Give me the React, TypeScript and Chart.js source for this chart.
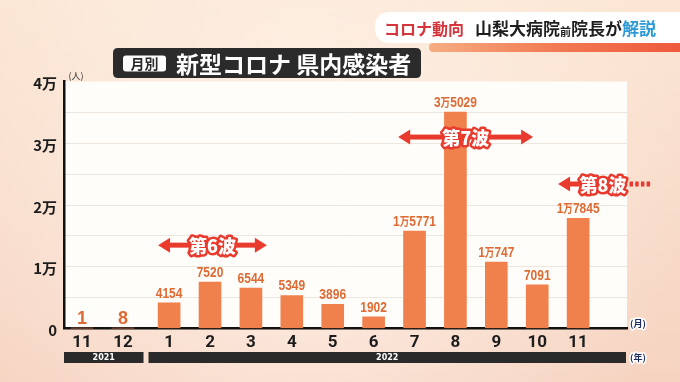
import React, { useEffect, useRef } from 'react';
import { Chart, registerables } from 'chart.js';

Chart.register(...registerables);

// ---------------- data ----------------
const MONTHS = ['11', '12', '1', '2', '3', '4', '5', '6', '7', '8', '9', '10', '11'];
const YEARS = [2021, 2021, 2022, 2022, 2022, 2022, 2022, 2022, 2022, 2022, 2022, 2022, 2022];
const CASES = [1, 8, 4154, 7520, 6544, 5349, 3896, 1902, 15771, 35029, 10747, 7091, 17845];
const Y_MAX = 40000;
const Y_STEP = 5000;
const Y_LABEL_STEP = 10000;
const TITLE_TAG = '月別';
const TITLE = '新型コロナ 県内感染者';
const HEADER_RED = 'コロナ動向';
const HEADER_PARTS = [
  { t: '山梨大病院', c: '#1e1e1e', s: 17 },
  { t: '前', c: '#1e1e1e', s: 11 },
  { t: '院長が', c: '#1e1e1e', s: 17 },
  { t: '解説', c: '#2b9ad6', s: 17 },
];
const WAVE_LABELS = ['第6波', '第7波', '第8波'];
// wave annotation placement (x in axis units, at = y value)
const WAVE_PLACES = [
  { from: 1.86, to: 4.52, at: 13500, ongoing: false },
  { from: 7.73, to: 11.03, at: 31000, ongoing: false },
  { from: 11.64, to: 13.89, at: 23400, ongoing: true },
];
const YEAR_GAP = 0.13;

const XPOS = MONTHS.map((_, i) => i + (YEARS[i] !== YEARS[0] ? YEAR_GAP : 0));

const CJK = '"Noto Sans CJK JP", "Noto Sans", sans-serif';
const NUMF = '"Liberation Sans", Arial, sans-serif';
const ORANGE_TEXT = '#de6a34';
const BAR = '#f0804c';
const RED = '#e83b2e';
const NARROW_SCALE = 0.8;

function roundRect(ctx: CanvasRenderingContext2D, x: number, y: number, w: number, h: number, r: number) {
  ctx.beginPath();
  ctx.moveTo(x + r, y);
  ctx.lineTo(x + w - r, y);
  ctx.quadraticCurveTo(x + w, y, x + w, y + r);
  ctx.lineTo(x + w, y + h - r);
  ctx.quadraticCurveTo(x + w, y + h, x + w - r, y + h);
  ctx.lineTo(x + r, y + h);
  ctx.quadraticCurveTo(x, y + h, x, y + h - r);
  ctx.lineTo(x, y + r);
  ctx.quadraticCurveTo(x, y, x + r, y);
  ctx.closePath();
}

function drawValue(ctx: CanvasRenderingContext2D, v: number, cx: number, baseY: number) {
  ctx.save();
  ctx.fillStyle = ORANGE_TEXT;
  ctx.textBaseline = 'alphabetic';
  ctx.textAlign = 'left';
  if (v < 100) {
    ctx.font = `bold 18px ${NUMF}`;
    const w = ctx.measureText(String(v)).width;
    ctx.fillText(String(v), cx - w / 2, baseY);
    ctx.restore();
    return;
  }
  // narrow rendering
  ctx.translate(cx, baseY);
  ctx.scale(NARROW_SCALE, 1);
  const numFont = `bold 15px ${NUMF}`;
  const manFont = `bold 12px ${CJK}`;
  if (v >= 10000) {
    const man = String(Math.floor(v / 10000));
    const rest = String(v % 10000);
    ctx.font = numFont;
    const w1 = ctx.measureText(man).width;
    const w3 = ctx.measureText(rest).width;
    ctx.font = manFont;
    const w2 = ctx.measureText('万').width;
    let x = -(w1 + w2 + w3) / 2;
    ctx.font = numFont;
    ctx.fillText(man, x, 0);
    x += w1;
    ctx.font = manFont;
    ctx.fillText('万', x, 0);
    x += w2;
    ctx.font = numFont;
    ctx.fillText(rest, x, 0);
  } else {
    ctx.font = numFont;
    const w = ctx.measureText(String(v)).width;
    ctx.fillText(String(v), -w / 2, 0);
  }
  ctx.restore();
}

function arrowHead(ctx: CanvasRenderingContext2D, tipX: number, y: number, dir: number) {
  ctx.beginPath();
  ctx.moveTo(tipX, y);
  ctx.lineTo(tipX - dir * 12, y - 7.5);
  ctx.lineTo(tipX - dir * 12, y + 7.5);
  ctx.closePath();
  ctx.fill();
}

const decor = {
  id: 'decor',
  beforeDraw(chart: any) {
    const { ctx, width, height, chartArea } = chart;
    ctx.save();
    const g = ctx.createLinearGradient(0, 0, 0, height);
    g.addColorStop(0, '#fbe6d4');
    g.addColorStop(1, '#f6d3c1');
    ctx.fillStyle = g;
    ctx.fillRect(0, 0, width, height);
    const r = ctx.createRadialGradient(width * 0.45, height * 0.5, 20, width * 0.45, height * 0.5, 380);
    r.addColorStop(0, 'rgba(255,246,238,0.75)');
    r.addColorStop(1, 'rgba(255,246,238,0)');
    ctx.fillStyle = r;
    ctx.fillRect(0, 0, width, height);
    // panel
    ctx.fillStyle = '#fffdfa';
    ctx.fillRect(chartArea.left, chartArea.top, chartArea.right - chartArea.left, chartArea.bottom - chartArea.top);
    ctx.restore();
  },
  afterDatasetsDraw(chart: any) {
    const { ctx } = chart;
    const meta = chart.getDatasetMeta(0);
    meta.data.forEach((bar: any, i: number) => {
      const v = CASES[i];
      const off = v < 100 ? 4 : 5;
      drawValue(ctx, v, bar.x, bar.y - off);
    });
    // waves
    const xs = chart.scales.x;
    const ys = chart.scales.y;
    WAVE_PLACES.forEach((w, i) => {
      const x1 = xs.getPixelForValue(w.from);
      const x2 = xs.getPixelForValue(w.to);
      const y = ys.getPixelForValue(w.at);
      ctx.save();
      ctx.fillStyle = RED;
      ctx.font = `900 18px ${CJK}`;
      ctx.textBaseline = 'middle';
      ctx.textAlign = 'center';
      const tw = ctx.measureText(WAVE_LABELS[i]).width;
      let tx: number;
      if (!w.ongoing) {
        ctx.fillRect(x1 + 8, y - 2.5, x2 - x1 - 16, 5);
        arrowHead(ctx, x1, y, -1);
        arrowHead(ctx, x2, y, 1);
        tx = (x1 + x2) / 2;
      } else {
        const dotsW = 4 * 3.5 + 3 * 2.2;
        tx = x2 - dotsW - 3 - tw / 2;
        ctx.fillRect(x1 + 8, y - 2.5, tx - x1 - 8, 5);
        arrowHead(ctx, x1, y, -1);
        let dx = tx + tw / 2 + 3;
        for (let k = 0; k < 4; k++) {
          ctx.fillRect(dx, y - 2.5, 3.5, 5);
          dx += 3.5 + 2.2;
        }
      }
      ctx.lineJoin = 'round';
      ctx.lineWidth = 5;
      ctx.strokeStyle = RED;
      ctx.strokeText(WAVE_LABELS[i], tx, y + 1);
      ctx.fillStyle = '#ffffff';
      ctx.fillText(WAVE_LABELS[i], tx, y + 1);
      ctx.restore();
    });
  },
  afterDraw(chart: any) {
    const { ctx, chartArea, width } = chart;
    const xs = chart.scales.x;
    ctx.save();
    // header pill
    ctx.fillStyle = '#ffffff';
    roundRect(ctx, 375, 12, 330, 31, 15.5);
    ctx.fill();
    const og = ctx.createLinearGradient(429, 0, width, 0);
    og.addColorStop(0, '#f6ad83');
    og.addColorStop(0.5, '#f27a52');
    og.addColorStop(1, '#ee5a3c');
    ctx.fillStyle = og;
    roundRect(ctx, 429, 43, 270, 9, 4);
    ctx.fill();
    ctx.textBaseline = 'middle';
    ctx.textAlign = 'left';
    ctx.font = `bold 16px ${CJK}`;
    ctx.fillStyle = '#d4343a';
    ctx.fillText(HEADER_RED, 384, 29);
    let hx = 475;
    HEADER_PARTS.forEach((p) => {
      ctx.font = `bold ${p.s}px ${CJK}`;
      ctx.fillStyle = p.c;
      ctx.fillText(p.t, hx, p.s < 16 ? 31.5 : 29);
      hx += ctx.measureText(p.t).width;
    });
    // title
    ctx.fillStyle = '#2b2b2b';
    roundRect(ctx, 113, 48, 308, 30, 5);
    ctx.fill();
    ctx.fillStyle = '#ffffff';
    roundRect(ctx, 123, 55.5, 43, 16, 3);
    ctx.fill();
    ctx.fillStyle = '#2b2b2b';
    ctx.font = `bold 14px ${CJK}`;
    ctx.textAlign = 'center';
    ctx.fillText(TITLE_TAG, 144.5, 64);
    ctx.fillStyle = '#ffffff';
    ctx.font = `bold 23px ${CJK}`;
    ctx.textAlign = 'left';
    ctx.fillText(TITLE, 176, 64);
    // unit labels
    ctx.font = `9px ${CJK}`;
    ctx.fillStyle = '#333';
    ctx.textAlign = 'center';
    ctx.fillText('(人)', 76, 76);
    const unit = (t: string, x: number, y: number) => {
      ctx.font = `bold 9px ${CJK}`;
      ctx.lineWidth = 3;
      ctx.strokeStyle = '#ffffff';
      ctx.lineJoin = 'round';
      ctx.strokeText(t, x, y);
      ctx.fillStyle = '#1d2c5e';
      ctx.fillText(t, x, y);
    };
    unit('(月)', chartArea.right + 11, chartArea.bottom - 5);
    unit('(年)', chartArea.right + 11, 358);
    // year bars
    const groups: { year: number; first: number; last: number }[] = [];
    YEARS.forEach((y, i) => {
      const g = groups[groups.length - 1];
      if (g && g.year === y) g.last = i;
      else groups.push({ year: y, first: i, last: i });
    });
    groups.forEach((g, gi) => {
      let left = chartArea.left;
      let right = chartArea.right - 1;
      if (gi > 0) {
        const prev = groups[gi - 1];
        left = (xs.getPixelForValue(XPOS[prev.last]) + xs.getPixelForValue(XPOS[g.first])) / 2 + 2.5;
      }
      if (gi < groups.length - 1) {
        const next = groups[gi + 1];
        right = (xs.getPixelForValue(XPOS[g.last]) + xs.getPixelForValue(XPOS[next.first])) / 2 - 2.5;
      }
      ctx.fillStyle = '#2a2a2a';
      ctx.fillRect(left, 352, right - left, 11);
      ctx.fillStyle = '#ffffff';
      ctx.font = `bold 8px "DejaVu Sans", sans-serif`;
      ctx.textAlign = 'center';
      ctx.fillText(String(g.year), (left + right) / 2, 357.8);
    });
    ctx.restore();
  },
};

export default function App() {
  const ref = useRef<HTMLCanvasElement | null>(null);
  useEffect(() => {
    document.body.style.margin = '0';
    const canvas = ref.current;
    if (!canvas) return;
    const chart = new Chart(canvas, {
      type: 'bar',
      data: {
        datasets: [
          {
            data: XPOS.map((x, i) => ({ x, y: CASES[i] })),
            backgroundColor: BAR,
            borderWidth: 0,
            barThickness: 22,
          },
        ],
      },
      options: {
        animation: false,
        responsive: false,
        devicePixelRatio: 1,
        layout: { padding: { left: 0, right: 53, top: 81.5, bottom: 0 } },
        plugins: { legend: { display: false }, tooltip: { enabled: false } },
        scales: {
          x: {
            type: 'linear',
            offset: false,
            min: -0.44,
            max: 13.325,
            afterBuildTicks: (s: any) => {
              s.ticks = XPOS.map((v) => ({ value: v }));
            },
            afterFit: (s: any) => {
              s.height = 53.5;
            },
            grid: { display: false, drawTicks: false, offset: false },
            border: { display: true, color: '#111111', width: 2.5 },
            ticks: {
              autoSkip: false,
              maxRotation: 0,
              padding: 4,
              color: '#1c1c1c',
              font: { family: 'Roboto, "Liberation Sans", sans-serif', size: 17, weight: 'bold' },
              callback: (_v: any, i: number) => MONTHS[i],
            },
          },
          y: {
            min: 0,
            max: Y_MAX,
            afterFit: (s: any) => {
              s.width = 64;
            },
            grid: {
              drawTicks: false,
              lineWidth: 1,
              color: (c: any) => (c.tick && (c.tick.value === 0 || c.tick.value === Y_MAX) ? 'rgba(0,0,0,0)' : '#ede6df'),
            },
            border: { display: true, color: '#111111', width: 2.5 },
            ticks: {
              stepSize: Y_STEP,
              padding: 7,
              labelOffset: 2,
              color: '#1c1c1c',
              font: { family: CJK, size: 15, weight: 'bold' },
              callback: (v: any) => (v % Y_LABEL_STEP === 0 ? (v === 0 ? '0' : `${v / 10000}万`) : ''),
            },
          },
        },
      } as any,
      plugins: [decor],
    });
    return () => chart.destroy();
  }, []);
  return <canvas ref={ref} width={680} height={382} style={{ display: 'block' }} />;
}
